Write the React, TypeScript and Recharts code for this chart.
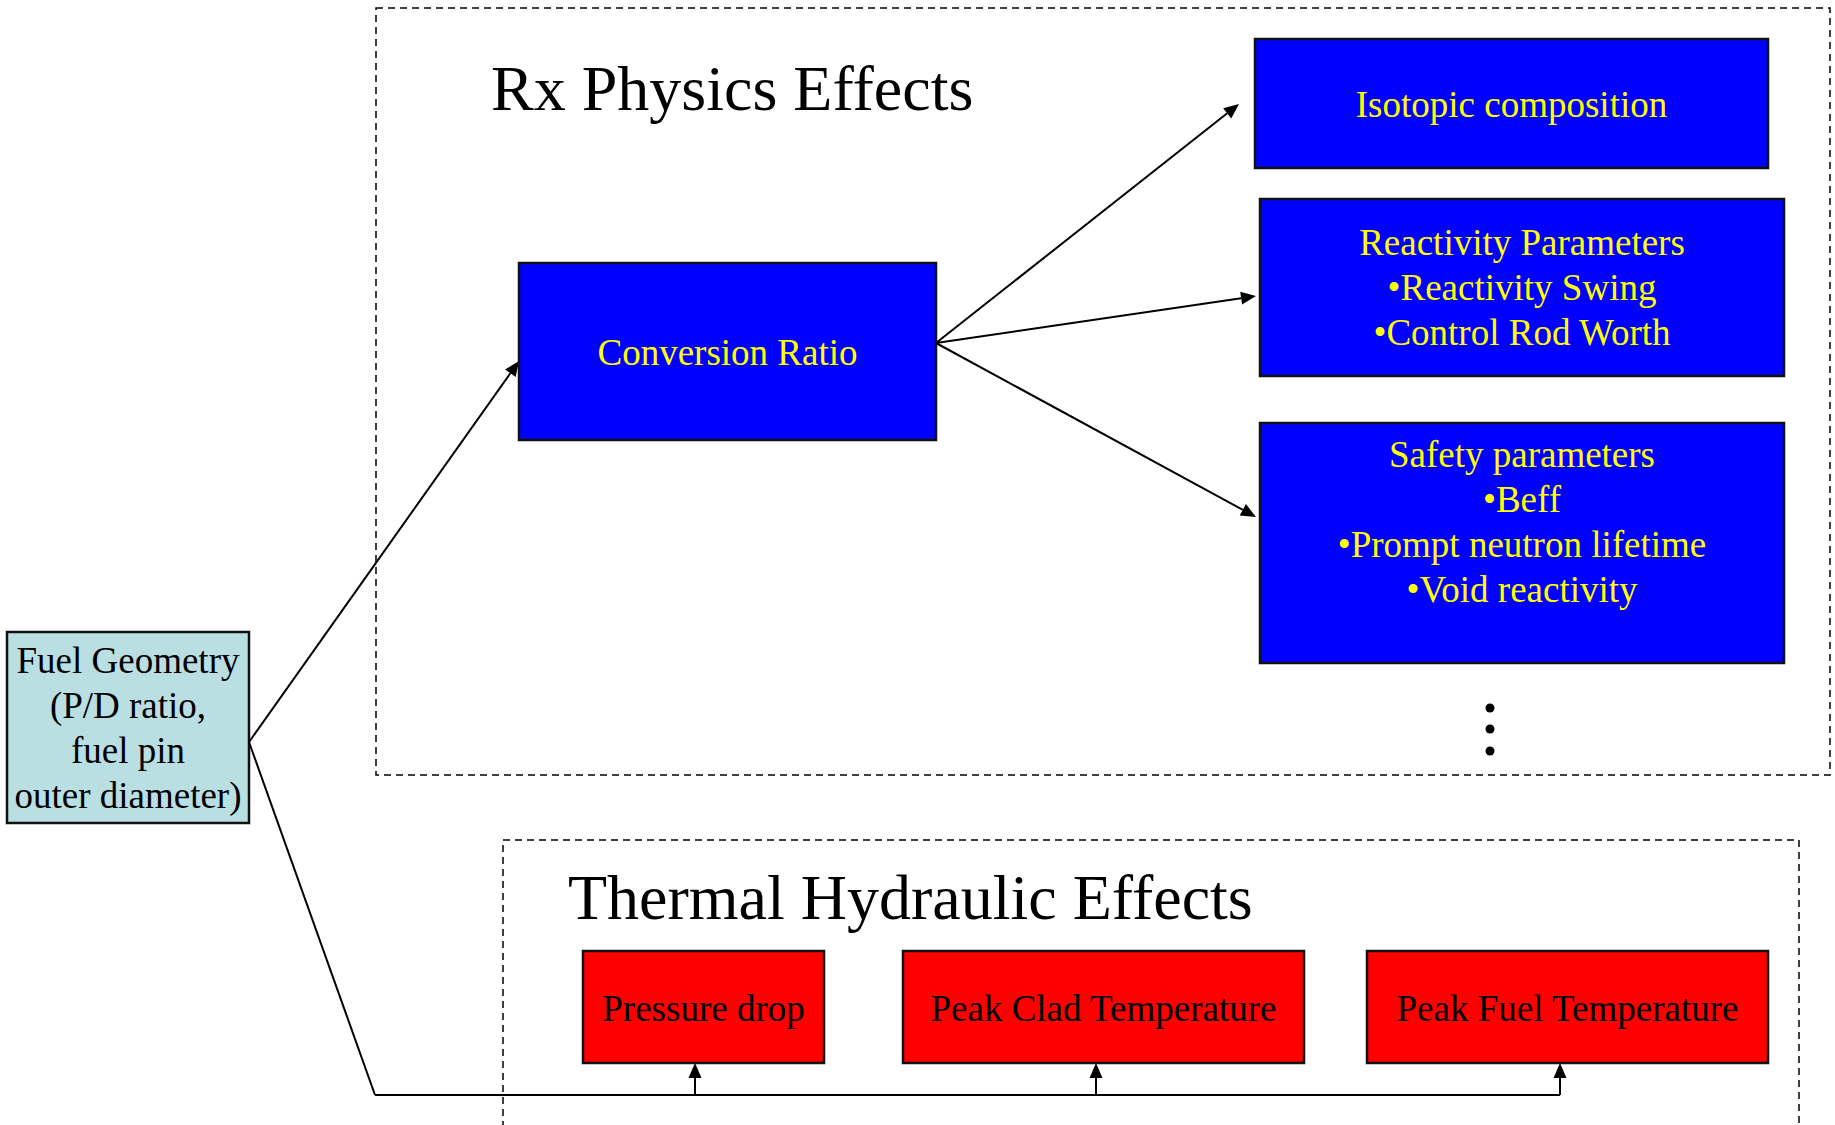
import { ComposedChart, XAxis, YAxis, ReferenceArea, ReferenceLine, ReferenceDot, Scatter } from 'recharts'

const W = 1835
const H = 1125
const FONT = '"Liberation Serif", "Times New Roman", serif'

// group frames (dashed) and their titles
const groupTitles = ['Rx Physics Effects', 'Thermal Hydraulic Effects']
const groupFrames = [
  { x1: 376, x2: 1830, y1: 8, y2: 775 },
  { x1: 503, x2: 1799, y1: 840, y2: 1140 },
]
const groupTitleAnchors = [
  { x: 491, y: 110 },
  { x: 568, y: 919 },
]

// boxes: lines of text, extent, first text baseline
const sourceNode = { lines: ['Fuel Geometry', '(P/D ratio,', 'fuel pin', 'outer diameter)'], x1: 7, x2: 249, y1: 632, y2: 823, baseline: 673 }
const hubNode = { lines: ['Conversion Ratio'], x1: 519, x2: 936, y1: 263, y2: 440, baseline: 365 }
const physicsNodes = [
  { lines: ['Isotopic composition'], x1: 1255, x2: 1768, y1: 39, y2: 168, baseline: 117 },
  { lines: ['Reactivity Parameters', '•Reactivity Swing', '•Control Rod Worth'], x1: 1260, x2: 1784, y1: 199, y2: 376, baseline: 255 },
  { lines: ['Safety parameters', '•Beff', '•Prompt neutron lifetime', '•Void reactivity'], x1: 1260, x2: 1784, y1: 423, y2: 663, baseline: 467 },
]
const thermalNodes = [
  { lines: ['Pressure drop'], x1: 583, x2: 824, y1: 951, y2: 1063, baseline: 1021 },
  { lines: ['Peak Clad Temperature'], x1: 903, x2: 1304, y1: 951, y2: 1063, baseline: 1021 },
  { lines: ['Peak Fuel Temperature'], x1: 1367, x2: 1768, y1: 951, y2: 1063, baseline: 1021 },
]

// connectors
const physicsArrows = [
  { from: { x: 249, y: 742 }, to: { x: 519, y: 361 } },
  { from: { x: 936, y: 343 }, to: { x: 1239, y: 104 } },
  { from: { x: 936, y: 343 }, to: { x: 1256, y: 296 } },
  { from: { x: 936, y: 343 }, to: { x: 1256, y: 517 } },
]
const busPath = [
  { x: 249, y: 742 },
  { x: 375, y: 1095 },
  { x: 1560, y: 1095 },
]
const busY = 1095
const thermalTaps = [695, 1096, 1560]
const tapTipY = 1063

const ellipsisDots = [
  { x: 1490, y: 708 },
  { x: 1490, y: 729 },
  { x: 1490, y: 751 },
]

const makeLabel = (node: any, color: string) => (props: any) => {
  const vb = props.viewBox
  const cx = vb.x + vb.width / 2
  const top = vb.y + (node.baseline - node.y1)
  return (
    <text x={cx} y={top} textAnchor="middle" fill={color} fontFamily={FONT} fontSize={37}>
      {node.lines.map((l: string, i: number) => (
        <tspan key={i} x={cx} y={top + i * 45}>{l}</tspan>
      ))}
    </text>
  )
}

const titleLabel = (text: string) => (props: any) => {
  const vb = props.viewBox
  return (
    <text x={vb.x} y={vb.y} fill="#000" fontFamily={FONT} fontSize={64}>{text}</text>
  )
}

const arrowShape = (head: boolean) => (p: any) => {
  const { x1, y1, x2, y2 } = p
  const a = Math.atan2(y2 - y1, x2 - x1)
  const len = 15
  const half = 6.5
  const c = Math.cos(a)
  const s = Math.sin(a)
  const bx = head ? x2 - len * c : x2
  const by = head ? y2 - len * s : y2
  return (
    <g>
      <line x1={x1} y1={y1} x2={bx} y2={by} stroke="#000" strokeWidth={2} />
      {head && (
        <polygon
          points={`${x2},${y2} ${bx + half * s},${by - half * c} ${bx - half * s},${by + half * c}`}
          fill="#000"
        />
      )}
    </g>
  )
}

const box = (node: any, fill: string, color: string, key: string) => (
  <ReferenceArea
    key={key}
    x1={node.x1}
    x2={node.x2}
    y1={node.y1}
    y2={node.y2}
    fill={fill}
    fillOpacity={1}
    stroke="#111"
    strokeWidth={2.5}
    ifOverflow="visible"
    label={makeLabel(node, color)}
  />
)

export default function App() {
  return (
    <div style={{ position: 'absolute', left: 0, top: 0, width: W, height: H, overflow: 'hidden', background: '#fff' }}>
      <ComposedChart width={W} height={H} margin={{ top: 0, right: 0, bottom: 0, left: 0 }}>
        <XAxis type="number" dataKey="x" domain={[0, W]} hide />
        <YAxis type="number" dataKey="y" domain={[0, H]} reversed hide />

        {groupFrames.map((f, i) => (
          <ReferenceArea
            key={`frame-${i}`}
            x1={f.x1}
            x2={f.x2}
            y1={f.y1}
            y2={f.y2}
            fill="none"
            stroke="#000"
            strokeWidth={1.5}
            strokeDasharray="7 5"
            ifOverflow="visible"
          />
        ))}
        {groupTitles.map((t, i) => (
          <ReferenceDot
            key={`title-${i}`}
            x={groupTitleAnchors[i].x}
            y={groupTitleAnchors[i].y}
            r={0}
            fill="none"
            stroke="none"
            ifOverflow="visible"
            label={titleLabel(t)}
          />
        ))}

        {physicsArrows.map((a, i) => (
          <ReferenceLine key={`arr-${i}`} segment={[a.from, a.to]} ifOverflow="visible" shape={arrowShape(true)} />
        ))}
        {busPath.slice(1).map((p, i) => (
          <ReferenceLine key={`bus-${i}`} segment={[busPath[i], p]} ifOverflow="visible" shape={arrowShape(false)} />
        ))}
        {thermalTaps.map((x, i) => (
          <ReferenceLine
            key={`tap-${i}`}
            segment={[{ x, y: busY }, { x, y: tapTipY }]}
            ifOverflow="visible"
            shape={arrowShape(true)}
          />
        ))}

        {box(sourceNode, '#B9DFE3', '#000', 'src')}
        {box(hubNode, '#0000FF', '#FFFF00', 'hub')}
        {physicsNodes.map((n, i) => box(n, '#0000FF', '#FFFF00', `phys-${i}`))}
        {thermalNodes.map((n, i) => box(n, '#FF0000', '#000', `th-${i}`))}

        <Scatter
          data={ellipsisDots}
          dataKey="y"
          fill="#000"
          isAnimationActive={false}
          shape={(p: any) => <circle cx={p.cx} cy={p.cy} r={4.5} fill="#000" />}
        />
      </ComposedChart>
    </div>
  )
}
